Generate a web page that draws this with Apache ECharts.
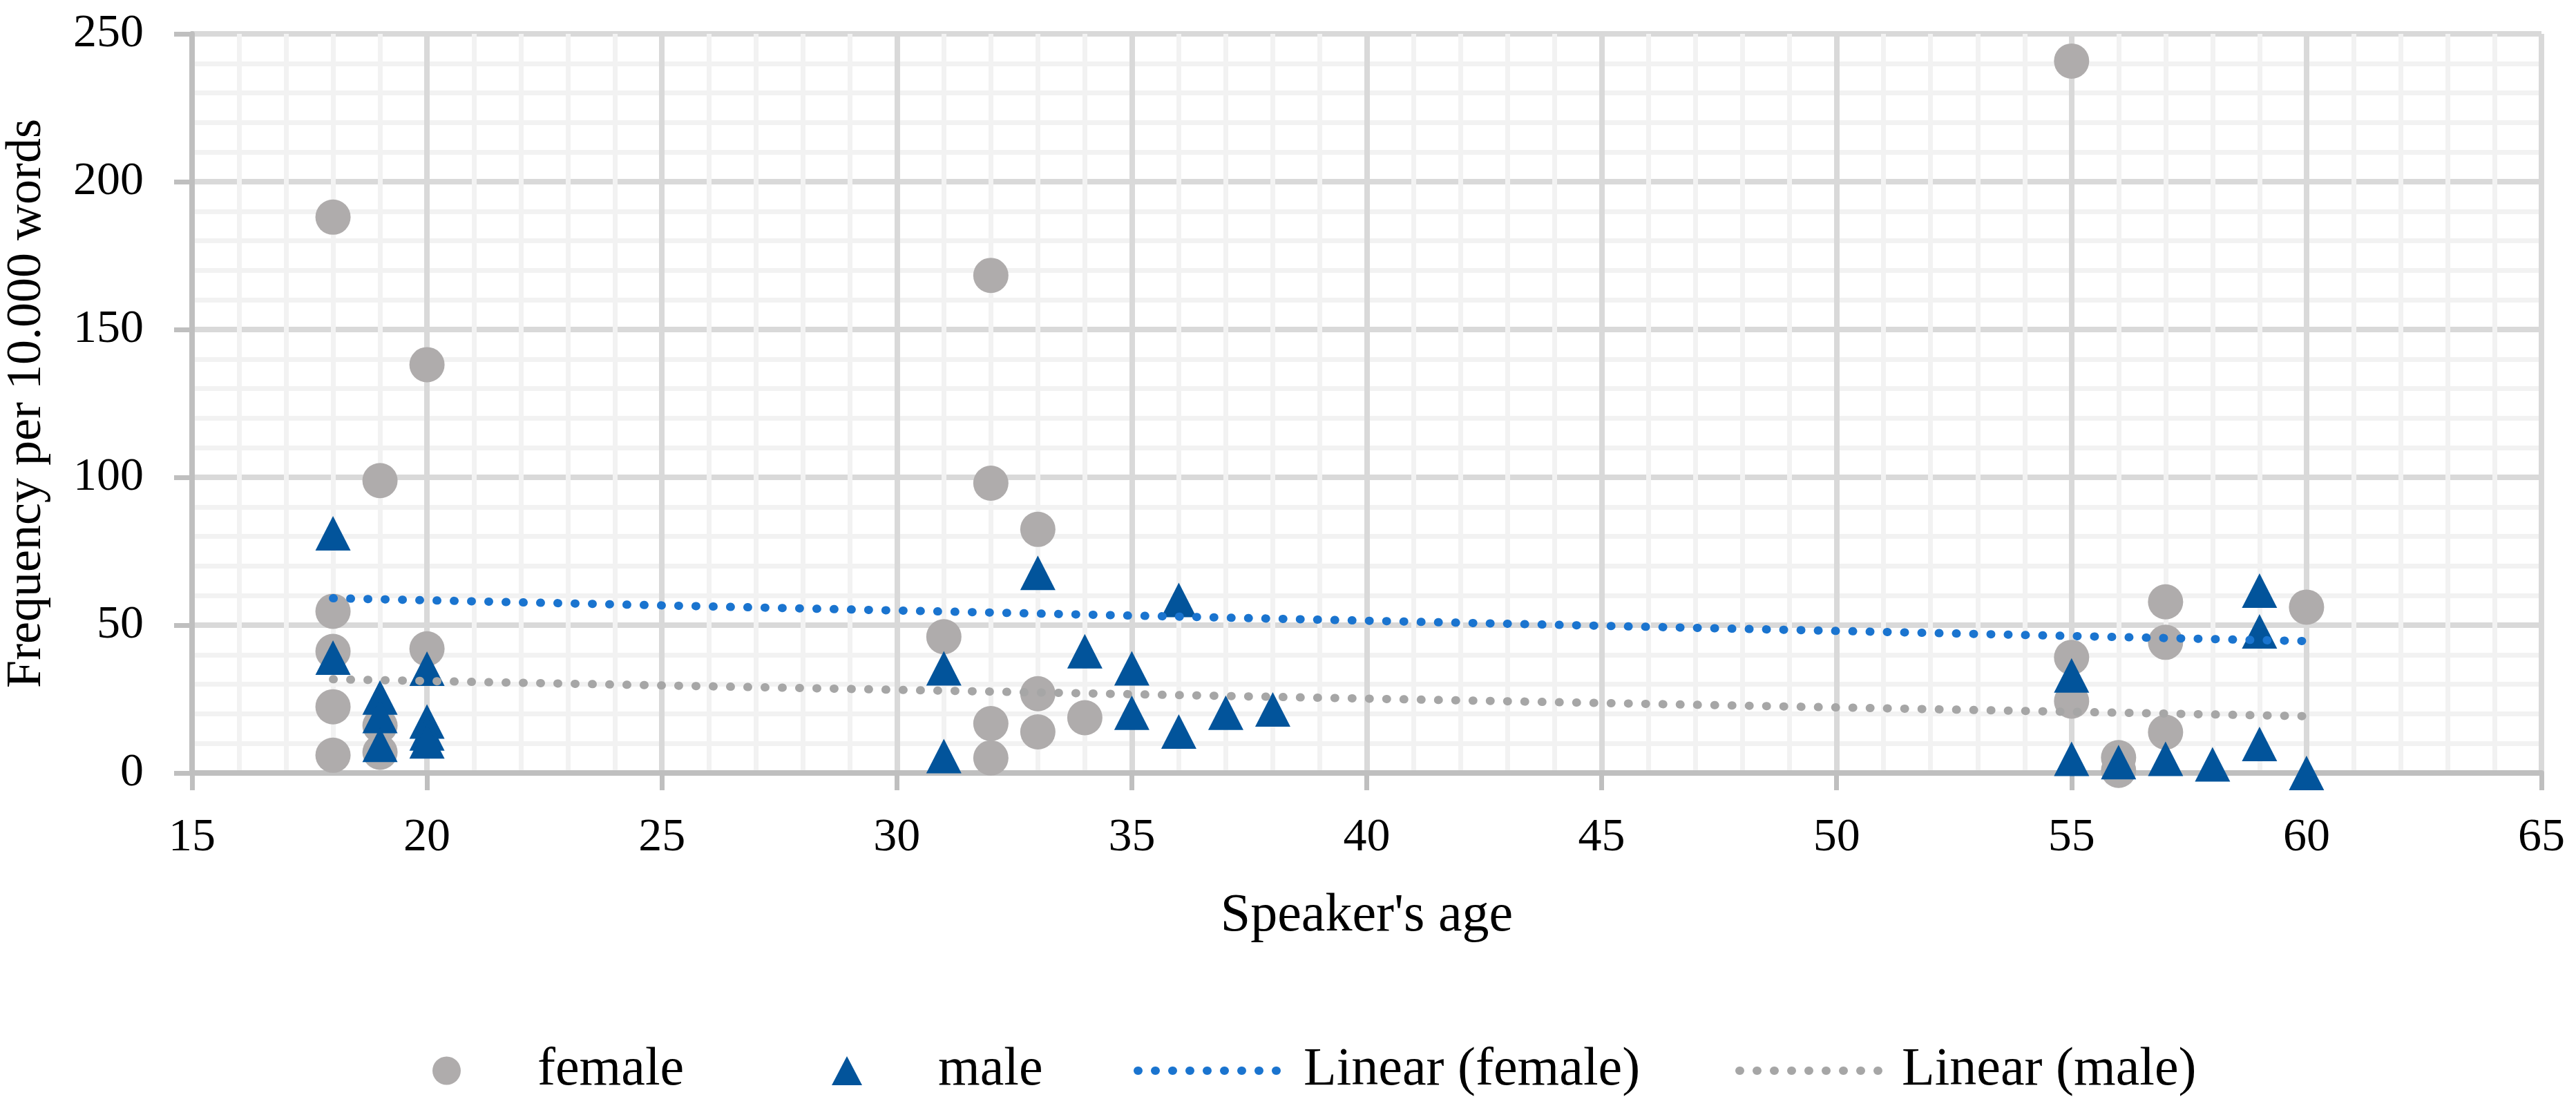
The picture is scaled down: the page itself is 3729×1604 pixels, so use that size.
<!DOCTYPE html>
<html>
<head>
<meta charset="utf-8">
<script src="https://cdn.jsdelivr.net/npm/echarts@6/dist/echarts.min.js"></script>
<style>
html,body{margin:0;padding:0;background:#ffffff;}
#chart{width:3729px;height:1604px;}
</style>
</head>
<body>
<div id="chart"></div>
<script>
// ---- data ----
const xTickLabels = [15, 20, 25, 30, 35, 40, 45, 50, 55, 60, 65];
const yTickLabels = [0, 50, 100, 150, 200, 250];

const femaleAge  = [18, 18, 18, 18, 18, 19, 19, 19, 20, 20, 31, 32, 32, 32, 32, 33, 33, 33, 34, 55, 55, 55, 56, 56, 57, 57, 57, 60];
const femaleFreq = [188, 54.7, 41.1, 22.4, 6.0, 98.9, 16, 7, 138.1, 42.0, 46.1, 168.3, 98.0, 16.7, 5.1, 82.4, 26.8, 13.9, 18.7, 240.8, 39.1, 24.3, 5.2, 0.9, 57.9, 44.2, 13.8, 56.1];

const maleAge  = [18, 18, 19, 19, 19, 20, 20, 20, 20, 31, 31, 33, 34, 35, 35, 36, 36, 37, 38, 55, 55, 56, 57, 58, 59, 59, 59, 60];
const maleFreq = [81.1, 39.0, 25.5, 19.3, 9.5, 35.3, 17.4, 13.4, 10.7, 35.4, 5.7, 67.7, 41.2, 35.4, 20.4, 58.5, 14.0, 20.4, 21.5, 33.0, 4.8, 3.7, 4.8, 2.9, 61.7, 47.9, 9.8, 0];

const trendFemaleAge  = [18, 60];
const trendFemaleFreq = [59.1, 44.6];
const trendMaleAge  = [18, 60];
const trendMaleFreq = [31.7, 19.2];

const seriesNames = ['female', 'male', 'Linear (female)', 'Linear (male)'];
const xName = "Speaker's age";
const yName = 'Frequency per 10.000 words';

// ---- build ----
const zip = (a, b) => a.map((v, i) => [v, b[i]]);
const FONT = "'Liberation Serif', 'Times New Roman', serif";
const C_FEMALE = '#AFACAC';
const C_MALE = '#02549B';
const C_TF = '#1A74CF';
const C_TM = '#A6A6A6';

const chart = echarts.init(document.getElementById('chart'), null, {renderer: 'canvas'});

function legendFor(name, left, w, h, padLeft, isLine) {
  const l = {
    data: [name],
    left: left,
    top: 1511,
    padding: 0,
    itemWidth: w,
    itemHeight: h,
    selectedMode: false,
    textStyle: {fontFamily: FONT, fontSize: 78, color: '#000000', padding: [0, 0, 0, padLeft]}
  };
  if (isLine) {
    l.itemStyle = {opacity: 0};
    l.lineStyle = {width: 12, type: [1, 24], cap: 'round'};
  }
  return l;
}

const option = {
  backgroundColor: '#ffffff',
  animation: false,
  grid: {left: 278, right: 50, top: 49, bottom: 485, containLabel: false, outerBoundsMode: 'none'},
  xAxis: {
    type: 'value',
    min: xTickLabels[0],
    max: xTickLabels[xTickLabels.length - 1],
    interval: xTickLabels[1] - xTickLabels[0],
    name: xName,
    nameLocation: 'middle',
    nameGap: 169,
    nameTextStyle: {fontFamily: FONT, fontSize: 78, color: '#000000'},
    axisLine: {show: true, onZero: false, lineStyle: {color: '#BFBFBF', width: 8}},
    axisTick: {show: true, inside: false, length: 25, lineStyle: {color: '#BFBFBF', width: 7}},
    axisLabel: {fontFamily: FONT, fontSize: 68, color: '#000000', margin: 60},
    splitLine: {show: true, lineStyle: {color: '#D9D9D9', width: 8}},
    minorTick: {show: false, splitNumber: 5},
    minorSplitLine: {show: true, lineStyle: {color: '#F2F2F2', width: 7}}
  },
  yAxis: {
    type: 'value',
    min: yTickLabels[0],
    max: yTickLabels[yTickLabels.length - 1],
    interval: yTickLabels[1] - yTickLabels[0],
    name: yName,
    nameLocation: 'middle',
    nameGap: 203,
    nameTextStyle: {fontFamily: FONT, fontSize: 72, color: '#000000'},
    axisLine: {show: true, lineStyle: {color: '#BFBFBF', width: 8}},
    axisTick: {show: true, inside: false, length: 26, lineStyle: {color: '#BFBFBF', width: 7}},
    axisLabel: {fontFamily: FONT, fontSize: 68, color: '#000000', margin: 70},
    splitLine: {show: true, lineStyle: {color: '#D9D9D9', width: 8}},
    minorTick: {show: false, splitNumber: 5},
    minorSplitLine: {show: true, lineStyle: {color: '#F2F2F2', width: 7}}
  },
  legend: [
    legendFor(seriesNames[0], 626, 41, 41, 106, false),
    legendFor(seriesNames[1], 1204, 44, 42, 105, false),
    legendFor(seriesNames[2], 1641, 202, 14, 33, true),
    legendFor(seriesNames[3], 2512, 201, 14, 29, true)
  ],
  series: [
    {
      name: seriesNames[0], type: 'scatter', clip: false, z: 2,
      symbol: 'circle', symbolSize: 51,
      itemStyle: {color: C_FEMALE, opacity: 1},
      data: zip(femaleAge, femaleFreq)
    },
    {
      name: seriesNames[1], type: 'scatter', clip: false, z: 3,
      symbol: 'triangle', symbolSize: [51, 50],
      itemStyle: {color: C_MALE, opacity: 1},
      data: zip(maleAge, maleFreq)
    },
    {
      name: seriesNames[2], type: 'line', z: 4, silent: true,
      symbol: 'none', showSymbol: false,
      itemStyle: {color: C_TF},
      lineStyle: {color: C_TF, width: 12, type: [1, 24], cap: 'round'},
      data: zip(trendFemaleAge, trendFemaleFreq)
    },
    {
      name: seriesNames[3], type: 'line', z: 4, silent: true,
      symbol: 'none', showSymbol: false,
      itemStyle: {color: C_TM},
      lineStyle: {color: C_TM, width: 12, type: [1, 24], cap: 'round'},
      data: zip(trendMaleAge, trendMaleFreq)
    }
  ]
};
chart.setOption(option);
</script>
</body>
</html>
